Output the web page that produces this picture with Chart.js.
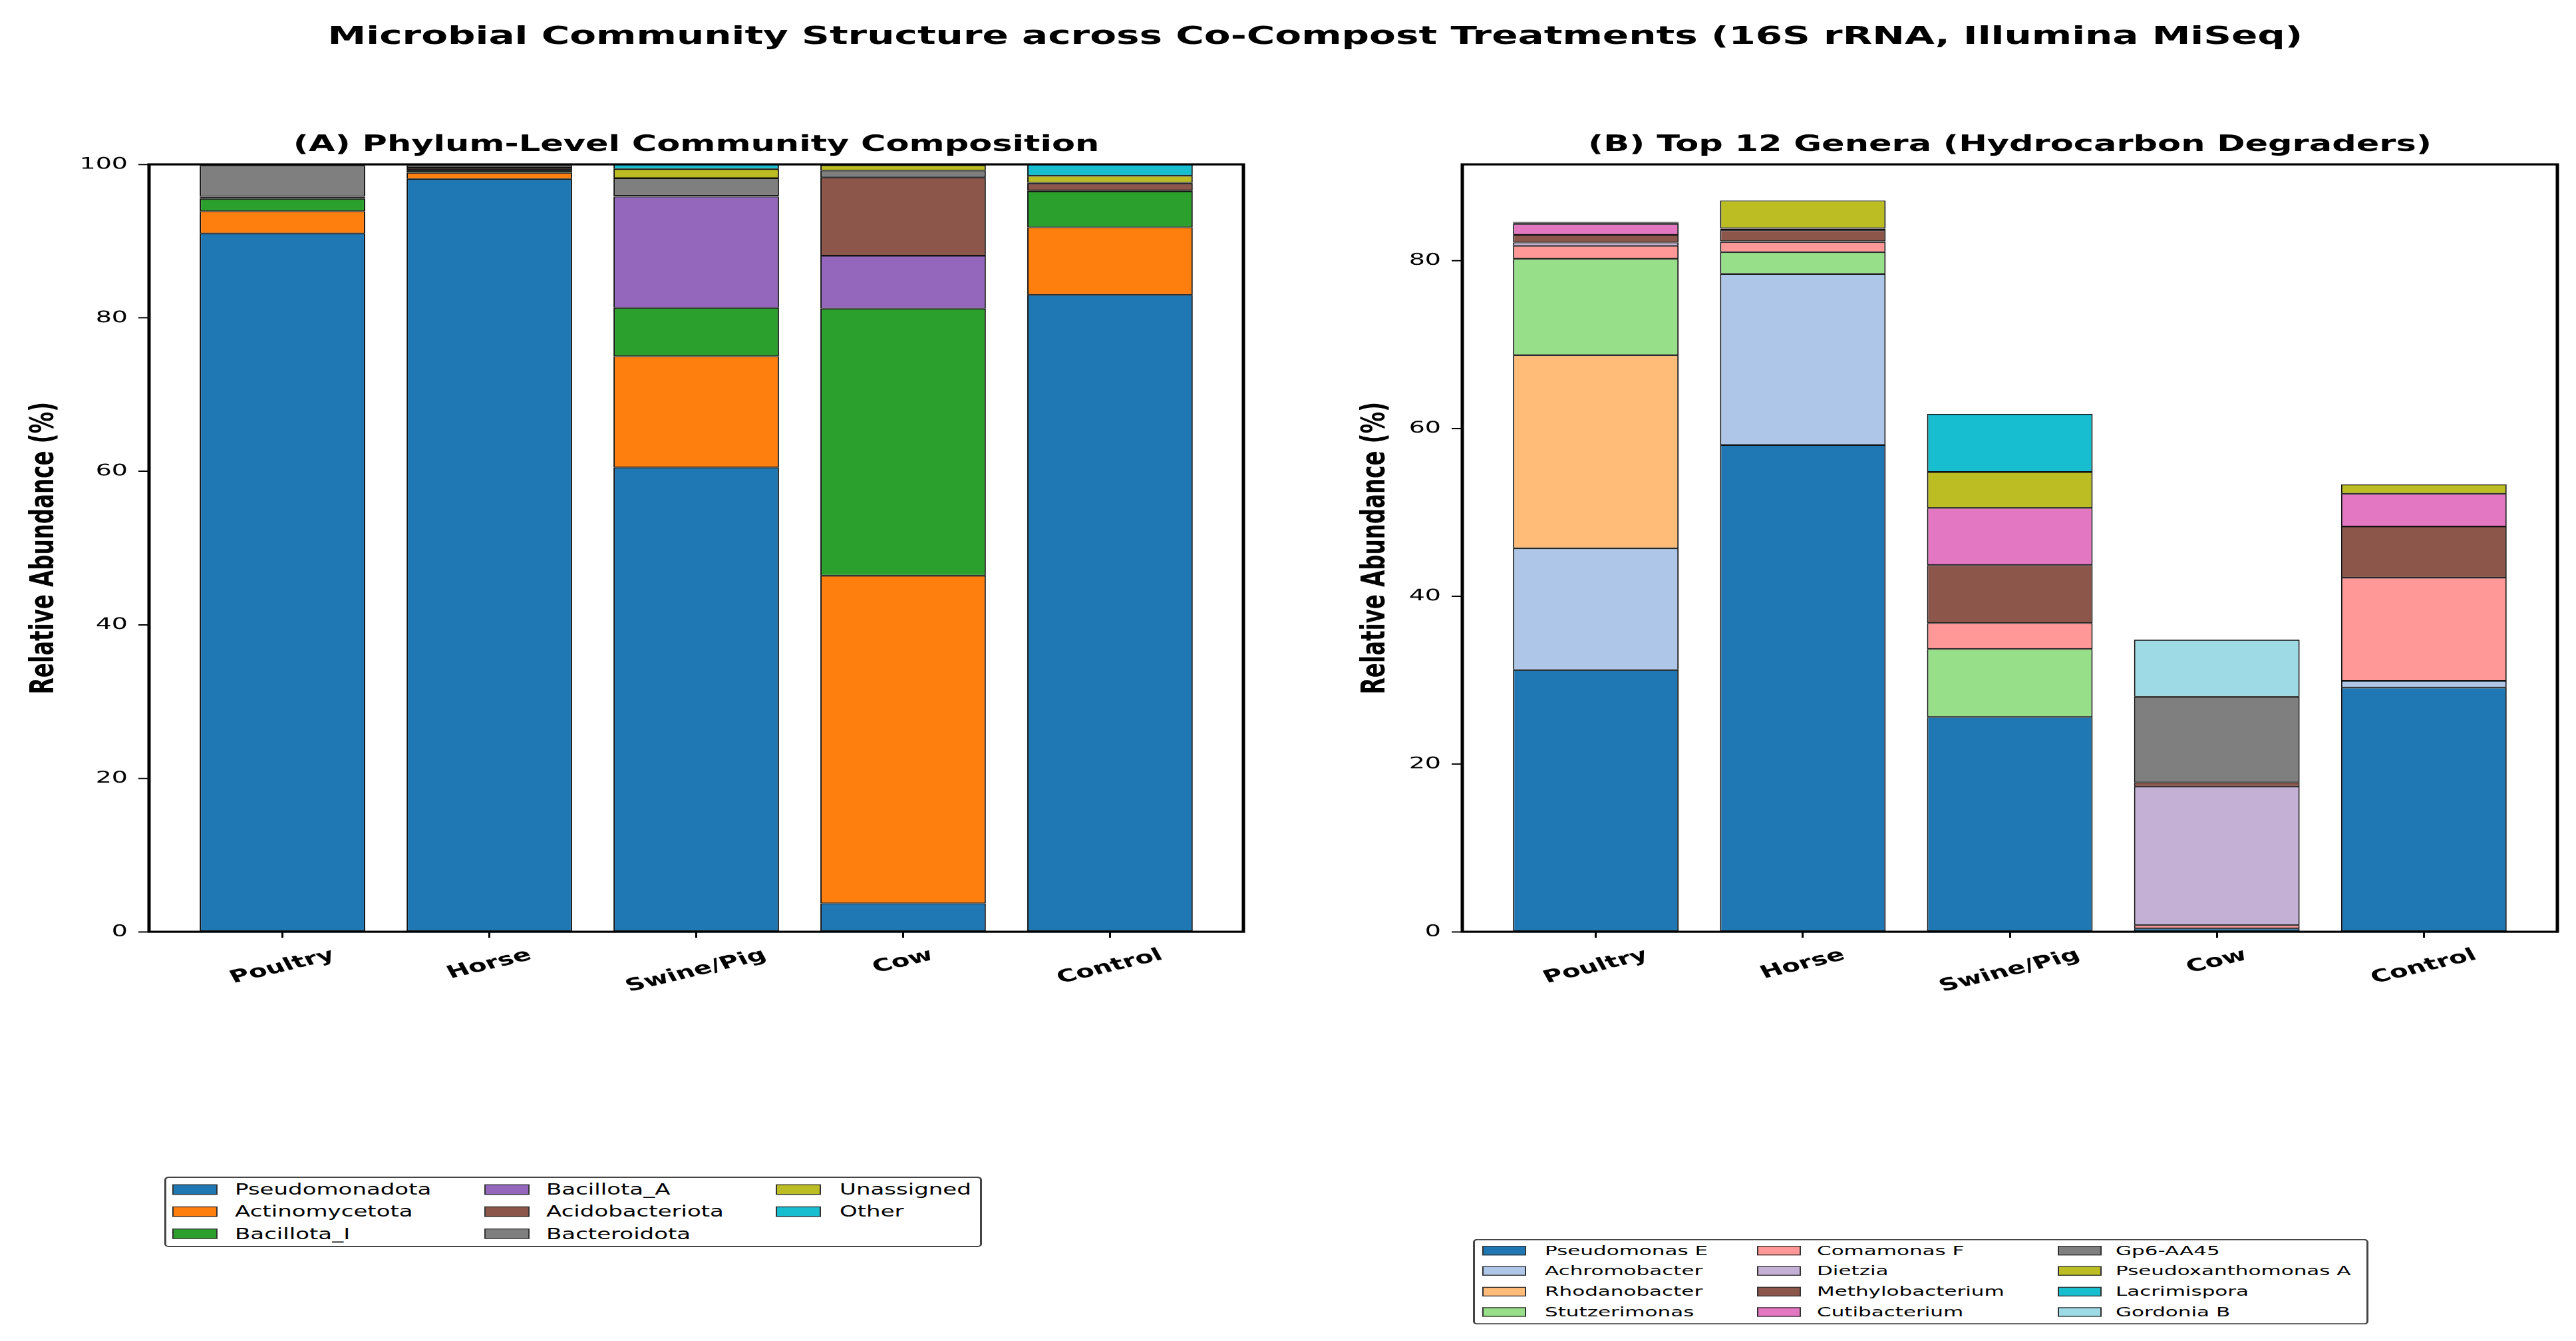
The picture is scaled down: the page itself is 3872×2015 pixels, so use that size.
<!DOCTYPE html>
<html>
<head>
<meta charset="utf-8">
<script src="https://cdn.jsdelivr.net/npm/chart.js@4.4.1/dist/chart.umd.min.js"></script>
<style>
html, body { margin: 0; padding: 0; background: #fff; overflow: hidden; }
/* the reference figure is squeezed vertically, so draw tall and squash */
#fig { position: absolute; left: 0; top: 0; width: 3872px; height: 3100px;
       transform: scaleY(0.65); transform-origin: 0 0; font-family: 'DejaVu Sans'; color: #000; }
.panel { position: absolute; top: 0; }
#suptitle { position: absolute; left: 82px; top: 53px; width: 3790px; text-align: center;
            font: bold 58px 'DejaVu Sans'; line-height: 58px; white-space: nowrap; }
.legend { position: absolute; box-sizing: border-box; border: 3px solid #444; border-radius: 7px; background: #fff; }
.sw { position: absolute; box-sizing: border-box; border: 2px solid #333; }
.lt { position: absolute; white-space: nowrap; font-family: 'DejaVu Sans'; }
</style>
</head>
<body>
<div id="fig">
  <div id="suptitle">Microbial Community Structure across Co-Compost Treatments (16S rRNA, Illumina MiSeq)</div>
  <canvas id="chartA" class="panel" width="1936" height="3100" style="left:0px"></canvas>
  <canvas id="chartB" class="panel" width="1936" height="3100" style="left:1936px"></canvas>
  <div id="legA" class="legend" style="left:247px;top:2720px;width:1229px;height:163px"></div>
  <div id="legB" class="legend" style="left:2214px;top:2864px;width:1346px;height:198px"></div>
</div>
<script>
const categories = ['Poultry', 'Horse', 'Swine/Pig', 'Cow', 'Control'];

// (A) phylum level, % of reads
const phyla = ['Pseudomonadota', 'Actinomycetota', 'Bacillota_I', 'Bacillota_A',
               'Acidobacteriota', 'Bacteroidota', 'Unassigned', 'Other'];
const pseudomonadota  = [91.0, 98.1, 60.5, 3.7, 83.0];
const actinomycetota  = [2.9, 0.8, 14.5, 42.7, 8.8];
const bacillotaI      = [1.6, 0.25, 6.3, 34.8, 4.7];
const bacillotaA      = [0.15, 0.15, 14.5, 6.9, 0.1];
const acidobacteriota = [0.15, 0.25, 0.1, 10.2, 0.9];
const bacteroidota    = [4.0, 0.3, 2.3, 0.9, 0.1];
const unassigned      = [0.1, 0.1, 1.2, 0.7, 0.9];
const otherPhyla      = [0.1, 0.05, 0.6, 0.1, 1.5];
const phylaColors = ['#1f77b4', '#ff7f0e', '#2ca02c', '#9467bd', '#8c564b', '#7f7f7f', '#bcbd22', '#17becf'];

// (B) top 12 genera, % of reads
const genera = ['Pseudomonas E', 'Achromobacter', 'Rhodanobacter', 'Stutzerimonas',
                'Comamonas F', 'Dietzia', 'Methylobacterium', 'Cutibacterium',
                'Gp6-AA45', 'Pseudoxanthomonas A', 'Lacrimispora', 'Gordonia B'];
const pseudomonasE      = [31.2, 58.0, 25.6, 0.4, 29.1];
const achromobacter     = [14.5, 20.4, 0, 0, 0.8];
const rhodanobacter     = [23.0, 0, 0, 0, 0];
const stutzerimonas     = [11.5, 2.6, 8.1, 0, 0];
const comamonasF        = [1.55, 1.2, 3.1, 0.4, 12.3];
const dietzia           = [0.4, 0.1, 0, 16.5, 0];
const methylobacterium  = [0.9, 1.3, 6.9, 0.5, 6.1];
const cutibacterium     = [1.3, 0.2, 6.8, 0, 3.9];
const gp6AA45           = [0.1, 0.05, 0, 10.2, 0];
const pseudoxanthomonas = [0.05, 3.3, 4.3, 0, 1.1];
const lacrimispora      = [0.05, 0, 6.9, 0, 0];
const gordoniaB         = [0.05, 0, 0, 6.8, 0];
const generaColors = ['#1f77b4', '#aec7e8', '#ffbb78', '#98df8a', '#ff9896', '#c5b0d5',
                      '#8c564b', '#e377c2', '#7f7f7f', '#bcbd22', '#17becf', '#9edae5'];

const yTicksStep = 20;
const FONT = 'DejaVu Sans';

// frame, panel title and rotated, centred category labels
function panelDeco(title) {
  return {
    id: 'panelDeco',
    afterDraw(chart) {
      const {ctx, chartArea: a, scales: {x}} = chart;
      ctx.save();
      ctx.lineWidth = 5;
      ctx.strokeStyle = '#000';
      ctx.strokeRect(a.left, a.top, a.right - a.left, a.bottom - a.top);

      ctx.fillStyle = '#000';
      ctx.font = 'bold 51px "' + FONT + '"';
      ctx.textAlign = 'center';
      ctx.textBaseline = 'alphabetic';
      ctx.fillText(title, (a.left + a.right) / 2, a.top - 31);

      ctx.font = 'bold 40px "' + FONT + '"';
      ctx.textBaseline = 'middle';
      const th = 20 * Math.PI / 180;
      categories.forEach((c, i) => {
        const w = ctx.measureText(c).width;
        const h = 40 * 1.17;
        const cy = a.bottom + 31 + (w * Math.sin(th) + h * Math.cos(th)) / 2;
        ctx.save();
        ctx.translate(x.getPixelForValue(i), cy);
        ctx.rotate(-th);
        ctx.fillText(c, 0, 0);
        ctx.restore();
      });
      ctx.restore();
    }
  };
}

function makeChart(id, names, colors, series, yMax, padL, padR, titlePad, title) {
  const datasets = names.map((n, k) => ({
    label: n,
    data: series[k].map((v, i) => ({x: i, y: v})),
    backgroundColor: colors[k],
    borderColor: '#111',
    borderWidth: 2,
    borderSkipped: false,
    barPercentage: 0.8,
    categoryPercentage: 1.0
  }));
  return new Chart(document.getElementById(id), {
    type: 'bar',
    data: {datasets},
    options: {
      responsive: false,
      animation: false,
      devicePixelRatio: 1,
      layout: {padding: {left: padL, right: padR, top: 380, bottom: 3100 - 2154 - 60}},
      plugins: {legend: {display: false}, tooltip: {enabled: false}, title: {display: false}},
      scales: {
        x: {
          type: 'linear', stacked: true, offset: false,
          min: -0.645, max: 4.645,
          grid: {display: true, offset: false, drawOnChartArea: false, drawTicks: true,
                 tickLength: 14, color: '#000', lineWidth: 3},
          border: {display: false},
          ticks: {display: false},
          afterBuildTicks: s => { s.ticks = categories.map((c, i) => ({value: i})); },
          afterFit: s => { s.height = 60; }
        },
        y: {
          stacked: true, min: 0, max: yMax,
          ticks: {stepSize: yTicksStep, includeBounds: false, color: '#000', padding: 16,
                  font: {family: FONT, size: 38}},
          grid: {drawOnChartArea: false, tickLength: 16, color: '#000', lineWidth: 3},
          border: {display: false},
          title: {display: true, text: 'Relative Abundance (%)', color: '#000',
                  font: {family: FONT, size: 50, weight: 'bold'},
                  padding: {top: titlePad, bottom: 0}},
          afterFit: s => { s.width = 200; }
        }
      }
    },
    plugins: [panelDeco(title)]
  });
}

function buildLegend(boxId, names, colors, nRows, colX, textX, rowY, fontPx, swW, swH) {
  const box = document.getElementById(boxId);
  names.forEach((n, k) => {
    const col = Math.floor(k / nRows), row = k % nRows;
    const sw = document.createElement('div');
    sw.className = 'sw';
    sw.style.cssText = `left:${colX[col]}px;top:${rowY[row] - swH / 2}px;width:${swW}px;height:${swH}px;background:${colors[k]}`;
    box.appendChild(sw);
    const t = document.createElement('div');
    t.className = 'lt';
    t.style.cssText = `left:${textX[col]}px;top:${rowY[row] - fontPx * 0.6}px;font-size:${fontPx}px;line-height:${fontPx * 1.2}px`;
    t.textContent = n;
    box.appendChild(t);
  });
}

makeChart('chartA', phyla, phylaColors,
  [pseudomonadota, actinomycetota, bacillotaI, bacillotaA, acidobacteriota, bacteroidota, unassigned, otherPhyla],
  100, 24, 67, 13, '(A) Phylum-Level Community Composition');

makeChart('chartB', genera, generaColors,
  [pseudomonasE, achromobacter, rhodanobacter, stutzerimonas, comamonasF, dietzia,
   methylobacterium, cutibacterium, gp6AA45, pseudoxanthomonas, lacrimispora, gordoniaB],
  91.45, 62, 28, 40, '(B) Top 12 Genera (Hydrocarbon Degraders)');

buildLegend('legA', phyla, phylaColors, 3, [9, 478, 916], [103, 571, 1012], [27, 78, 129], 34, 68, 24);
buildLegend('legB', genera, generaColors, 4, [11, 424, 876], [105, 514, 963], [24, 71, 119, 166], 31, 66, 22);
</script>
</body>
</html>
